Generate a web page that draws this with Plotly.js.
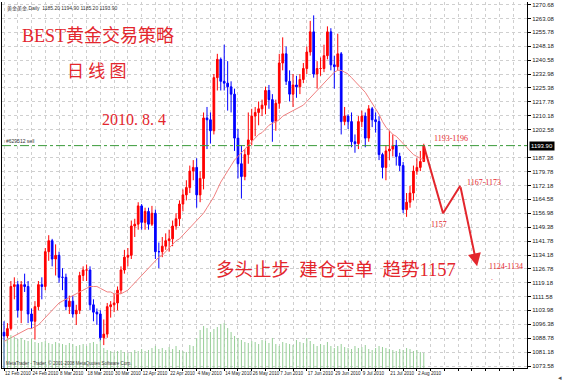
<!DOCTYPE html>
<html><head><meta charset="utf-8">
<script src="https://cdn.plot.ly/plotly-3.0.1.min.js"></script>
<style>html,body{margin:0;padding:0;background:#fff}#chart{width:563px;height:381px}</style>
</head><body><div id="chart"></div>
<script>
// date labels every 8 bars (bar index 0 = 12 Feb 2010)
const dateLabels = ["12 Feb 2010","24 Feb 2010","8 Mar 2010","18 Mar 2010","30 Mar 2010","12 Apr 2010","22 Apr 2010","4 May 2010","14 May 2010","26 May 2010","7 Jun 2010","17 Jun 2010","29 Jun 2010","9 Jul 2010","21 Jul 2010","2 Aug 2010"];
const openP = [1092,1090,1094,1117,1118,1104,1118,1117,1102,1098,1106,1118,1117,1136,1142,1132,1134,1122,1122,1106,1109,1102,1104,1123,1126,1126,1107,1103,1102,1089,1091,1106,1107,1108,1115,1126,1133,1134,1150,1151,1161,1152,1158,1151,1157,1136,1136,1139,1142,1143,1150,1154,1162,1167,1171,1180,1182,1167,1176,1209,1208,1202,1231,1241,1229,1228,1226,1222,1198,1184,1177,1189,1197,1210,1212,1214,1216,1224,1219,1207,1217,1239,1244,1229,1222,1227,1226,1230,1236,1245,1256,1233,1236,1236,1243,1256,1238,1237,1244,1207,1210,1207,1196,1195,1207,1210,1198,1214,1208,1207,1189,1182,1191,1192,1194,1188,1183,1159,1163,1168,1180,1182,1185.2];
const highP = [1098,1097,1120,1122,1120,1120,1124,1120,1105,1109,1120,1122,1138,1145,1143,1140,1136,1127,1124,1112,1112,1107,1125,1128,1129,1128,1110,1105,1104,1099,1108,1109,1113,1117,1128,1137,1138,1153,1154,1163,1162,1160,1160,1161,1159,1141,1144,1146,1148,1153,1157,1164,1170,1175,1183,1186,1187,1180,1212,1215,1212,1233,1244,1242,1249,1240,1229,1225,1203,1194,1192,1212,1214,1215,1218,1219,1226,1227,1222,1219,1244,1253,1248,1235,1233,1232,1233,1239,1248,1262,1265,1240,1242,1249,1259,1258,1243,1255,1245,1215,1211,1212,1200,1210,1213,1212,1216,1215,1212,1210,1190,1194,1202,1200,1197,1190,1185,1168,1172,1183,1187,1191,1194.9];
const lowP = [1070,1086,1093,1110,1100,1097,1114,1097,1094,1088,1104,1110,1115,1131,1128,1123,1119,1115,1104,1102,1100,1096,1102,1120,1120,1104,1098,1096,1087,1085,1089,1100,1103,1104,1113,1124,1128,1132,1144,1148,1148,1148,1148,1150,1132,1127,1133,1137,1136,1139,1148,1150,1158,1164,1168,1175,1160,1163,1170,1192,1195,1200,1224,1224,1224,1213,1212,1191,1176,1165,1175,1184,1194,1199,1205,1210,1211,1214,1196,1202,1214,1235,1227,1218,1215,1220,1222,1228,1233,1243,1231,1225,1232,1234,1241,1235,1225,1235,1200,1205,1203,1193,1190,1192,1204,1193,1196,1204,1201,1186,1176,1175,1186,1188,1183,1180,1157,1155,1160,1164,1178,1180,1185.2];
const closeP = [1090,1094,1117,1118,1104,1118,1117,1102,1098,1106,1118,1117,1136,1142,1132,1134,1122,1122,1106,1109,1102,1104,1123,1126,1126,1107,1103,1102,1089,1091,1106,1107,1108,1115,1126,1133,1134,1150,1151,1161,1152,1158,1151,1157,1136,1136,1139,1142,1143,1150,1154,1162,1167,1171,1180,1182,1167,1176,1209,1208,1202,1231,1241,1229,1228,1226,1222,1198,1184,1177,1189,1197,1210,1212,1214,1216,1224,1219,1207,1217,1239,1244,1229,1222,1227,1226,1230,1236,1245,1256,1233,1236,1236,1243,1256,1238,1237,1244,1207,1210,1207,1196,1195,1207,1210,1198,1214,1208,1207,1189,1182,1191,1192,1194,1188,1183,1159,1163,1168,1180,1182,1185.2,1193.9];
const maLine = [1087,1088,1089,1090,1091,1092,1093,1094,1094,1095,1096,1098,1100,1102,1104,1106,1108,1109,1110,1111,1112,1113,1114,1115,1116,1117,1117,1117,1116,1115,1114,1114,1113,1113,1113,1114,1115,1117,1119,1121,1123,1125,1127,1129,1131,1133,1134,1136,1138,1140,1142,1143,1145,1147,1149,1151,1153,1155,1157,1160,1163,1166,1170,1174,1177,1180,1183,1186,1188,1190,1192,1194,1196,1198,1200,1201,1203,1205,1206,1207,1208,1210,1211,1212,1213,1214,1215,1216,1218,1220,1222,1224,1226,1228,1230,1232,1234,1235,1235,1234,1233,1231,1229,1227,1225,1223,1220,1217,1214,1211,1207,1204,1202,1200,1199,1197,1195,1193,1191,1189,1188,1187,1186];
const volume = [28,30,33,31,29,30,28,27,29,26,25,26,27,25,24,26,25,24,23,25,24,22,23,24,22,25,26,24,28,20,18,17,16,17,18,16,15,16,18,17,19,17,18,20,22,19,20,18,21,19,22,18,17,16,23,22,30,38,42,40,36,39,41,44,45,40,36,32,30,28,26,25,27,26,24,28,27,25,30,24,22,26,25,24,23,28,26,25,30,27,24,22,24,23,26,22,20,22,24,21,20,19,22,20,21,23,19,18,20,22,21,20,19,18,17,19,18,20,19,17,18,16,15];
const yTicks = [1073.58,1081.18,1088.78,1096.38,1103.98,1111.58,1119.18,1126.78,1134.18,1141.78,1149.38,1156.98,1164.58,1172.18,1179.78,1187.38,1202.58,1210.18,1217.78,1225.38,1232.98,1240.58,1248.18,1255.78,1263.08,1270.68];
// forecast path (bar index, price)
const pathX = [122, 127.6, 132.6, 137.5];
const pathY = [1193.9, 1157, 1172, 1128];
const orderPrice = 1193.9;
const lastPrice = "1193.90";

const idx = openP.map((_, i) => i);
const xTickVals = [], xTickText = [];
for (let i = 0; i <= 148; i += 4) { xTickVals.push(i); xTickText.push(i % 8 === 0 && dateLabels[i/8] ? dateLabels[i/8] : ""); }

const red = '#e3262d';
const traces = [
  { type:'bar', x: idx, y: volume, yaxis:'y2', width:0.3, marker:{color:'#9ad09a', line:{width:0}}, hoverinfo:'skip' },
  { type:'scatter', mode:'lines', x: idx, y: maLine, line:{color:'#f08080', width:1}, hoverinfo:'skip' },
  { type:'candlestick', x: idx, open: openP, high: highP, low: lowP, close: closeP,
    increasing:{line:{color:'#ff0000', width:1}, fillcolor:'#ff0000'},
    decreasing:{line:{color:'#0000ff', width:1}, fillcolor:'#0000ff'},
    whiskerwidth:0, hoverinfo:'skip' },
  { type:'scatter', mode:'lines', x: pathX.slice(0,3), y: pathY.slice(0,3), line:{color:red, width:2}, hoverinfo:'skip' }
];

const serif = '"Liberation Serif","DejaVu Serif","Noto Sans CJK SC",serif';
const ann = (text, x, y, size, extra) => Object.assign({text, x, y, xref:'x', yref:'y', showarrow:false, font:{family:serif, size, color:red}}, extra||{});

const layout = {
  width:563, height:381,
  margin:{l:2, r:36, t:2, b:13},
  paper_bgcolor:'#fff', plot_bgcolor:'#fff',
  showlegend:false,
  xaxis:{range:[-0.58,152.0], tickmode:'array', tickvals:xTickVals, ticktext:xTickText, tickangle:0,
    showgrid:true, gridcolor:'#cfcfcf', griddash:'dot', gridwidth:1,
    showline:true, linecolor:'#000', linewidth:1, ticks:'outside', ticklen:2, tickcolor:'#000',
    ticklabelposition:'outside right', tickfont:{family:'Liberation Sans Narrow, Liberation Sans, Arial', size:4.6, color:'#222'},
    rangeslider:{visible:false}, zeroline:false, fixedrange:true},
  yaxis:{range:[1072.5,1272.3], side:'right', tickmode:'array', tickvals:yTicks, ticktext:yTicks.map(v=>v.toFixed(2)),
    showgrid:true, gridcolor:'#cfcfcf', griddash:'dot', gridwidth:1,
    showline:true, linecolor:'#000', linewidth:1, mirror:true, ticks:'outside', ticklen:3, tickcolor:'#000',
    tickfont:{family:'Liberation Sans, Arial', size:6, color:'#222'}, zeroline:false, fixedrange:true},
  yaxis2:{overlaying:'y', range:[0,366], visible:false, fixedrange:true},
  shapes:[
    {type:'line', xref:'paper', x0:0, x1:1, yref:'y', y0:orderPrice, y1:orderPrice, line:{color:'#3a9a3a', width:1, dash:'dashdot'}}
  ],
  annotations:[
    {text:'黄金美金,Daily  1185.20 1194.90 1185.20 1193.90', xref:'paper', yref:'paper', x:0.006, y:0.998, xanchor:'left', yanchor:'top', showarrow:false, font:{family:'Liberation Sans, Noto Sans CJK SC', size:5, color:'#333'}},
    {text:'#629512 sell', xref:'paper', yref:'y', x:0.004, y:orderPrice, xanchor:'left', yanchor:'bottom', showarrow:false, font:{family:'Liberation Sans', size:5, color:'#333'}},
    {text:lastPrice, xref:'paper', yref:'y', x:1.003, y:orderPrice, xanchor:'left', yanchor:'middle', showarrow:false, bgcolor:'#000', borderpad:1, font:{family:'Liberation Sans', size:6, color:'#fff'}},
    {text:'MetaTrader - Trader, © 2001-2008 MetaQuotes Software Corp.', xref:'paper', yref:'paper', x:0.003, y:0.0, xanchor:'left', yanchor:'bottom', showarrow:false, font:{family:'Liberation Sans', size:4.5, color:'#333'}},
    {text:'◂', xref:'paper', yref:'paper', x:1.055, y:-0.025, xanchor:'left', yanchor:'middle', showarrow:false, font:{size:7, color:'#555'}},
    {text:'BEST黄金交易策略', xref:'paper', yref:'paper', x:0.183, y:0.907, xanchor:'center', yanchor:'middle', showarrow:false, font:{family:serif, size:18, color:red}},
    {text:'日 线 图', xref:'paper', yref:'paper', x:0.181, y:0.81, xanchor:'center', yanchor:'middle', showarrow:false, font:{family:serif, size:17, color:red}},
    {text:'2010. 8. 4', xref:'paper', yref:'paper', x:0.251, y:0.678, xanchor:'center', yanchor:'middle', showarrow:false, font:{family:serif, size:16, color:red}},
    {text:'多头止步  建仓空单  趋势1157', xref:'paper', yref:'paper', x:0.637, y:0.268, xanchor:'center', yanchor:'middle', showarrow:false, font:{family:serif, size:18.5, color:red}},
    ann('1193-1196', 124.3, 1198, 8, {xanchor:'left'}),
    ann('1167-1173', 134, 1174, 8, {xanchor:'left'}),
    ann('1157', 123.4, 1151, 8, {xanchor:'left'}),
    ann('1124-1134', 140.3, 1128, 8, {xanchor:'left'}),
    ann('.', 141, 1122, 8, {xanchor:'left'}),
    {x:pathX[3], y:pathY[3], ax:pathX[2], ay:pathY[2], xref:'x', yref:'y', axref:'x', ayref:'y', text:'', showarrow:true, arrowhead:2, arrowsize:1.3, arrowwidth:2, arrowcolor:red}
  ]
};
Plotly.newPlot('chart', traces, layout, {displayModeBar:false, staticPlot:true});
</script></body></html>
